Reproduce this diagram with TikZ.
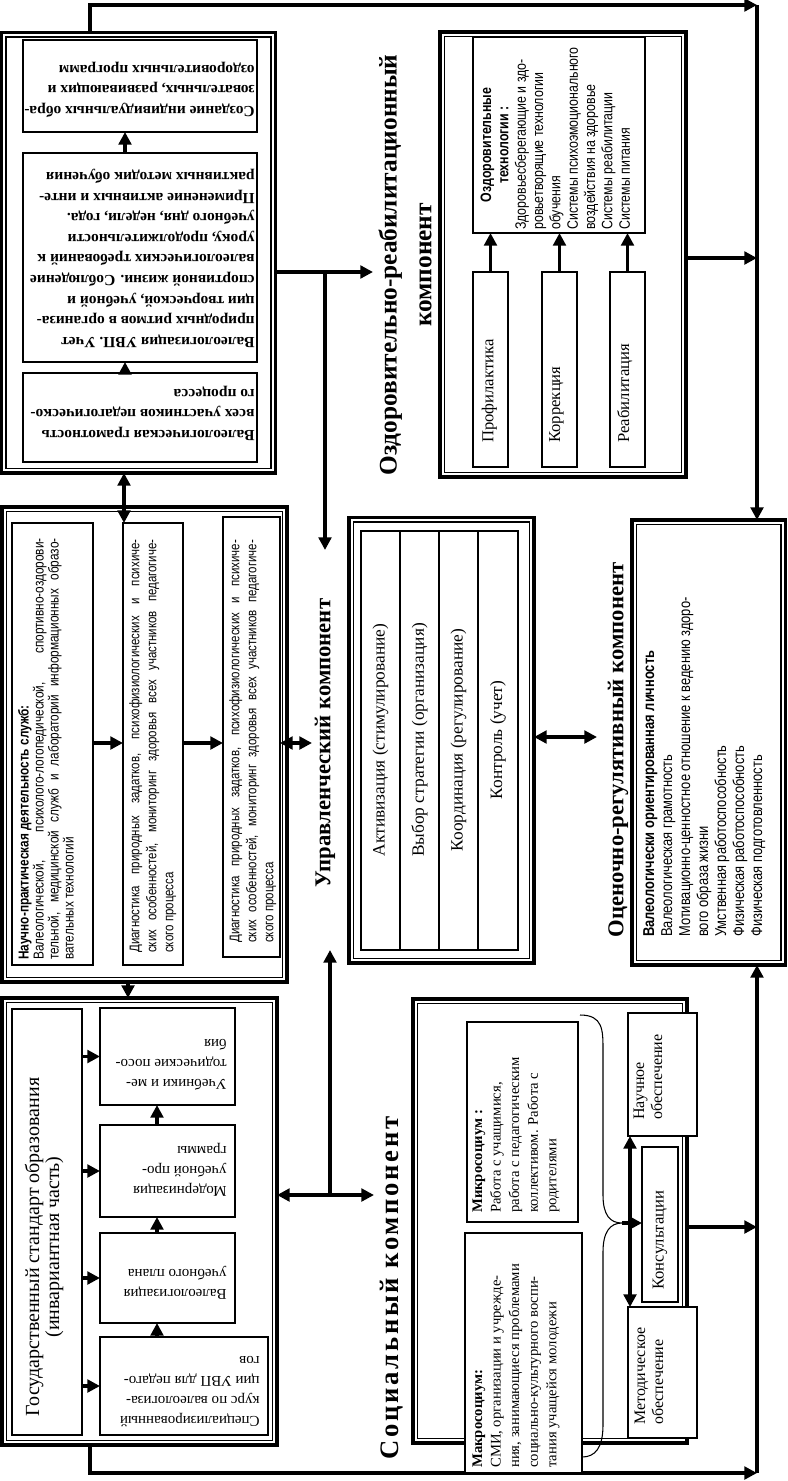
\documentclass[tikz,border=0pt]{standalone}
\usepackage{fontspec}
\setmainfont{Liberation Serif}
\newfontfamily\nsans[FakeStretch=0.82]{Liberation Sans}
\usetikzlibrary{arrows.meta,calc}
\newcommand\mkbox[6][]{%
  \pgfmathsetmacro\cxx{(#3+#5)/2}\pgfmathsetmacro\cyy{(#4+#6)/2}%
  \pgfmathsetmacro\www{(#5-#3)*0.75}\pgfmathsetmacro\hhh{(#6-#4)*0.75}%
  \node[bx,#1,minimum width=\www pt,minimum height=\hhh pt] (#2) at (\cxx,\cyy) {};}
\newcommand\mkdbl[5]{%
  \mkbox[outerbx]{#1}{#2}{#3}{#4}{#5}%
  \draw[innerln] ($(#1.north west)+(4.5,4.5)$) rectangle ($(#1.south east)+(-4.5,-4.5)$);}
\tikzset{
  bx/.style={draw, line width=1.4pt, inner sep=0pt, outer sep=0pt, fill=white},
  outerbx/.style={line width=2.3pt},
  innerln/.style={line width=1.1pt},
  Arr/.tip={Triangle[length=9.5pt,width=9.5pt]},
  conn/.style={line width=2.6pt, -Arr},
  dconn/.style={line width=2.6pt, Arr-Arr},
  t90/.style={rotate=90, anchor=north west, inner sep=0pt, align=left},
  t180/.style={rotate=180, anchor=north west, inner sep=0pt, align=left},
  tc90/.style={rotate=90, anchor=center, inner sep=0pt, align=center},
  ttl/.style={tc90, font=\bfseries\fontsize{17}{26}\selectfont},
}
\begin{document}
\begin{tikzpicture}[x=0.75pt,y=-0.75pt]
\useasboundingbox (0,0) rectangle (788,1481);
% ---------- outer blocks
\mkdbl{A}{1.5}{32.5}{275.5}{473}
\mkdbl{B}{440}{32}{686}{477}
\mkdbl{C}{2}{507}{287}{982}
\mkdbl{D}{2}{998}{277}{1445}
\mkdbl{E}{349}{517.5}{534}{963}
\mkdbl{F}{632}{520}{785.5}{965}
\mkdbl{G}{413}{999}{687}{1443}
% ---------- A
\mkbox{A1}{23}{40}{257}{132}
\mkbox{A2}{23}{153}{257}{362}
\mkbox{A3}{23}{373}{257}{462}
\node[t180, font=\fontsize{11.6}{15.4}\selectfont\bfseries] (A1t) at (255,117.5)
 {Создание индивидуальных обра-\\зовательных, развивающих и\\оздоровительных программ};
\node[t180, font=\fontsize{11.6}{15.4}\selectfont\bfseries] (A2t) at (255,347.5)
 {Валеологизация УВП. Учет\\природных ритмов в организа-\\ции творческой, учебной и\\спортивной жизни. Соблюдение\\валеологических требований к\\уроку, продолжительности\\учебного дня, недели, года.\\Применение активных и инте-\\рактивных методик обучения};
\node[t180, font=\fontsize{11.6}{15.4}\selectfont\bfseries] (A3t) at (255,440.5)
 {Валеологическая грамотность\\всех участников педагогическо-\\го процесса};
% ---------- B
\mkbox{Bt}{473}{37}{645}{233}
\mkbox{Bp}{473}{272}{508}{467}
\mkbox{Bk}{542}{272}{577}{467}
\mkbox{Br}{610}{272}{645}{467}
\node[t90, font=\nsans\fontsize{11.3}{13}\selectfont] (Btt) at (480.3,230)
 {\makebox[127pt][c]{\bfseries Оздоровительные}\\\makebox[127pt][c]{\bfseries технологии :}\\Здоровьесберегающие и здо-\\ровьетворящие технологии\\обучения\\Системы психоэмоционального\\воздействия на здоровье\\Системы реабилитации\\Системы питания};
\node[t90, font=\fontsize{12.5}{15}\selectfont] (Bpt) at (481.5,443) {Профилактика};
\node[t90, font=\fontsize{12.5}{15}\selectfont] (Bkt) at (549,443) {Коррекция};
\node[t90, font=\fontsize{12.5}{15}\selectfont] (Brt) at (617,443) {Реабилитация};
% ---------- C
\mkbox{C1}{12}{523}{93}{965}
\mkbox{C2}{123}{523}{183}{965}
\mkbox{C3}{223}{517}{280}{957}
\node[t90, font=\nsans\fontsize{10.8}{11.25}\selectfont] (C1t) at (17.8,960)
 {\textbf{Научно-практическая деятельность служб:}\\\makebox[316pt][s]{Валеологической, психолого-логопедической, спортивно-оздорови-}\\\makebox[316pt][s]{тельной, медицинской служб и лабораторий информационных образо-}\\вательных технологий};
\node[t90, font=\nsans\fontsize{10.5}{12.75}\selectfont] (C2t) at (129,953)
 {\makebox[310pt][s]{Диагностика природных задатков, психофизиологических и психиче-}\\\makebox[310pt][s]{ских особенностей, мониторинг здоровья всех участников педагогиче-}\\ского процесса};
\node[t90, font=\nsans\fontsize{10.5}{12.75}\selectfont] (C3t) at (229,943)
 {\makebox[302pt][s]{Диагностика природных задатков, психофизиологических и психиче-}\\\makebox[302pt][s]{ских особенностей, мониторинг здоровья всех участников педагогиче-}\\ского процесса};
% ---------- D
\mkbox{D0}{12}{1009}{82}{1435}
\mkbox{D1}{100}{1008}{235}{1105}
\mkbox{D2}{100}{1125}{235}{1217}
\mkbox{D3}{100}{1233}{235}{1323}
\mkbox{D4}{100}{1337}{268}{1435}
\node[tc90, font=\fontsize{15}{15}\selectfont] (D0t) at (44,1247)
 {Государственный стандарт образования\\(инвариантная часть)};
\node[t180, font=\fontsize{11.25}{15}\selectfont] (D1t) at (227,1090) {Учебники и ме-\\тодические посо-\\бия};
\node[t180, font=\fontsize{11.25}{15}\selectfont] (D2t) at (227,1197) {Модернизация\\учебной про-\\граммы};
\node[t180, font=\fontsize{11.25}{15}\selectfont] (D3t) at (227,1300) {Валеологизация\\учебного плана};
\node[t180, font=\fontsize{11.25}{15}\selectfont] (D4t) at (260,1427) {Специализированный\\курс по валеологиза-\\ции УВП для педаго-\\гов};
% ---------- E
\mkbox{E1}{361}{531}{400}{950}
\mkbox{E2}{400}{531}{439}{950}
\mkbox{E3}{439}{531}{478}{950}
\mkbox{E4}{478}{531}{518}{950}
\node[tc90, font=\fontsize{13}{15}\selectfont] (E1t) at (380.5,740) {Активизация (стимулирование)};
\node[tc90, font=\fontsize{13}{15}\selectfont] (E2t) at (419.5,740) {Выбор стратегии (организация)};
\node[tc90, font=\fontsize{13}{15}\selectfont] (E3t) at (458.5,740) {Координация (регулирование)};
\node[tc90, font=\fontsize{13}{15}\selectfont] (E4t) at (498,740) {Контроль (учет)};
% ---------- F
\node[t90, font=\nsans\fontsize{11.8}{13.5}\selectfont] (Ft) at (643,937)
 {\textbf{Валеологически ориентированная личность}\\Валеологическая грамотность\\Мотивационно-ценностное отношение к ведению здоро-\\вого образа жизни\\Умственная работоспособность\\Физическая работоспособность\\Физическая подготовленность};
% ---------- titles
\node[ttl, font=\bfseries\fontsize{19}{26}\selectfont] (Tozd) at (405,265) {Оздоровительно-реабилитационный\\компонент};
\node[ttl] (Tupr) at (325,743) {Управленческий компонент};
\node[ttl] (Tots) at (618,750) {Оценочно-регулятивный компонент};
\node[ttl, font=\bfseries\fontsize{20}{26}\selectfont\addfontfeature{LetterSpace=10}] (Tsoc) at (392,1288) {Социальный компонент};
% ---------- named coordinates
\coordinate (tr) at (757,5);
\coordinate (br) at (757,1473);
\coordinate (ozdIn) at (373,272);
\coordinate (jA) at (325,272);
\coordinate (uprTop) at (325,550);
\coordinate (uprL) at (312,743);
\coordinate (socIn) at (374,1195);
\coordinate (jD) at (330,1195);
\coordinate (uprBot) at (330,950);
\coordinate (otsL) at (597,737);
\coordinate (braceTip) at (622,1223);
% ---------- connectors
\draw[conn] (A.north -| 90,0) |- (tr);
\draw[conn] (tr) -- (F.north -| tr);
\draw[conn] (D.south -| 90,0) |- (br);
\draw[conn] (br) -- (F.south -| br);
\draw[conn] (A.east |- ozdIn) -- (ozdIn);
\draw[conn] (jA) -- (uprTop);
\draw[conn] (B.east |- 0,258) -- (tr |- 0,258);
\draw[dconn] (C3.east |- uprL) -- (uprL);
\draw[dconn] (D.east |- socIn) -- (socIn);
\draw[conn] (jD) -- (uprBot);
\draw[dconn] (E.east |- otsL) -- (otsL);
\draw[conn] (G.east |- 0,1227) -- (tr |- 0,1227);
\draw[conn] (A3.north -| 125,0) -- (A2.south -| 125,0);
\draw[conn] (A2.north -| 125,0) -- (A1.south -| 125,0);
\draw[dconn] (A.south -| 124,0) -- (C2.north -| 124,0);
\draw[conn] (C1.east |- 0,743) -- (C2.west |- 0,743);
\draw[conn] (C2.east |- 0,743) -- (C3.west |- 0,743);
\draw[conn] (C.south -| 128,0) -- (D.north -| 128,0);
\draw[conn] (D0.east |- D1.west) -- (D1.west);
\draw[conn] (D0.east |- D2.west) -- (D2.west);
\draw[conn] (D0.east |- D3.west) -- (D3.west);
\draw[conn] (D0.east |- D4.west) -- (D4.west);
\draw[conn] (D4.north -| 157,0) -- (D3.south -| 157,0);
\draw[conn] (D3.north -| 157,0) -- (D2.south -| 157,0);
\draw[conn] (D2.north -| 157,0) -- (D1.south -| 157,0);
\draw[conn] (Bp.north) -- (Bt.south -| Bp.north);
\draw[conn] (Bk.north) -- (Bt.south -| Bk.north);
\draw[conn] (Br.north) -- (Bt.south -| Br.north);
% ---------- G
\mkbox{G1}{467}{1022}{578}{1222}
\mkbox{G2}{465}{1233}{582}{1473}
\mkbox{G3}{628}{1013}{697}{1136}
\mkbox{G4}{642}{1147}{678}{1302}
\mkbox{G5}{628}{1307}{697}{1438}
\node[t90, font=\fontsize{11}{13.9}\selectfont] (G1t) at (472.3,1213)
 {\textbf{Микросоциум :}\\Работа с учащимися,\\работа с педагогическим\\коллективом. Работа с\\родителями};
\node[t90, font=\fontsize{11}{13.9}\selectfont] (G2t) at (472.3,1468)
 {\textbf{Макросоциум:}\\СМИ, организации и учрежде-\\ния, занимающиеся проблемами\\социально-культурного воспи-\\тания учащейся молодежи};
\node[t90, font=\fontsize{12}{13.5}\selectfont] (G3t) at (633.4,1120) {Научное\\обеспечение};
\node[t90, font=\fontsize{12}{13.5}\selectfont] (G5t) at (634.4,1425) {Методическое\\обеспечение};
\node[tc90, font=\fontsize{12.5}{15}\selectfont] (G4t) at (660,1240) {Консультации};
\draw[line width=0.8pt] (580,1015) .. controls (603,1015) and (603,1030) .. (603,1050)
  -- (603,1195) .. controls (603,1215) and (610,1223) .. (braceTip)
  .. controls (610,1223) and (603,1232) .. (603,1252)
  -- (603,1425) .. controls (603,1448) and (595,1457) .. (582,1457);
\draw[conn] (braceTip) -- (G4.west |- braceTip);
\draw[dconn] (G3.south -| 630,0) -- (G5.north -| 630,0);
\end{tikzpicture}
\end{document}
